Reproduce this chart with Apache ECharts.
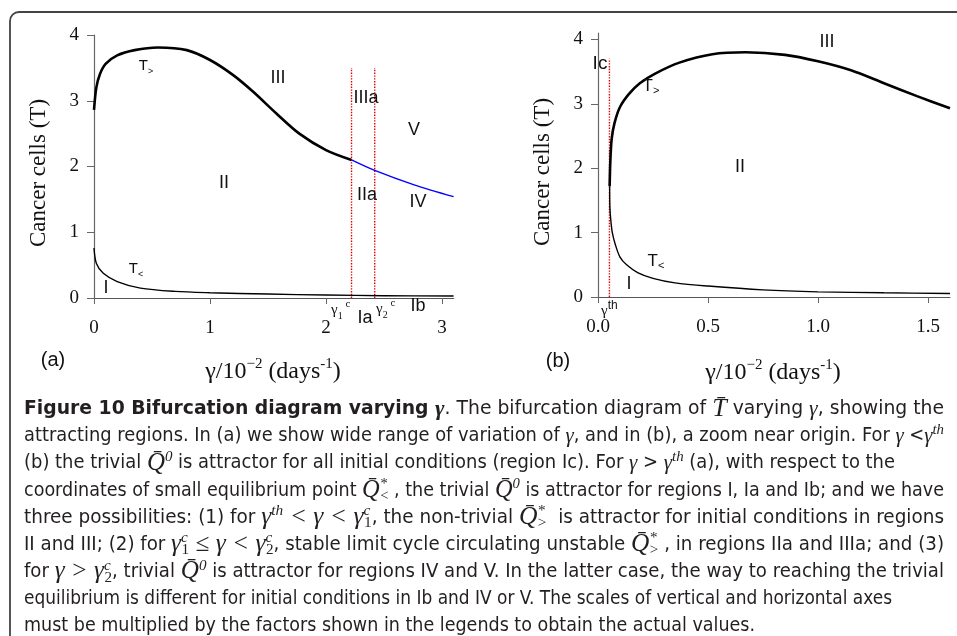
<!DOCTYPE html>
<html><head><meta charset="utf-8">
<script src="https://cdn.jsdelivr.net/npm/echarts@6/dist/echarts.min.js"></script>
<style>html,body{margin:0;padding:0;background:#fff}#c{width:957px;height:636px}</style>
</head><body><div id="c"></div><script>
// ---------- data ----------
// panel (a): T vs gamma/1e-2
const aUpperStable = [[0,2.86],[0.02,3.2],[0.05,3.4],[0.1,3.56],[0.2,3.69],[0.35,3.77],[0.55,3.81],[0.8,3.77],[1.0,3.62],[1.2,3.39],[1.37,3.14],[1.57,2.81],[1.77,2.5],[2.0,2.25],[2.22,2.1]];
const aUpperUnstable = [[2.22,2.1],[2.42,1.94],[2.76,1.72],[3.1,1.54]];
const aLower = [[0,0.76],[0.02,0.53],[0.08,0.375],[0.2,0.25],[0.4,0.15],[0.7,0.1],[1.0,0.08],[1.5,0.06],[2.0,0.045],[2.5,0.035],[3.1,0.03]];
const gammaC1 = 2.22, gammaC2 = 2.42, aDotTop = 3.5;
// panel (b): zoom near origin
const bUpper = [[0.053,1.72],[0.056,2.1],[0.062,2.45],[0.075,2.7],[0.1,2.95],[0.14,3.15],[0.19,3.32],[0.26,3.47],[0.37,3.64],[0.52,3.77],[0.67,3.8],[0.85,3.76],[1.0,3.66],[1.15,3.52],[1.3,3.32],[1.45,3.12],[1.6,2.93]];
const bLower = [[0.053,1.72],[0.054,1.4],[0.058,1.2],[0.065,1.0],[0.08,0.8],[0.1,0.62],[0.13,0.5],[0.18,0.38],[0.25,0.29],[0.35,0.22],[0.5,0.17],[0.75,0.11],[1.0,0.08],[1.3,0.065],[1.6,0.055]];
const gammaTh = 0.052, bDotTop = 3.7;
// ticks
const aXTicks = [0,1,2,3];
const bXTicks = [0,0.5,1.0,1.5];
const yTicks = [0,1,2,3,4];

// caption lines: [style, text]
const captionLines = [
 [['b','Figure 10 Bifurcation diagram varying '],['bm','γ'],['n','. The bifurcation diagram of '],['mq','T̄'],['n',' varying '],['m','γ'],['n',', showing the']],
 [['n','attracting regions. In (a) we show wide range of variation of '],['m','γ'],['n',', and in (b), a zoom near origin. For '],['m','γ'],['n',' <'],['m','γ'],['p','th']],
 [['n','(b) the trivial '],['mq','Q̄'],['p','0'],['n',' is attractor for all initial conditions (region Ic). For '],['m','γ'],['n',' > '],['m','γ'],['p','th'],['n',' (a), with respect to the']],
 [['n','coordinates of small equilibrium point '],['mq','Q̄'],['z','*'],['q','<'],['n',' , the trivial '],['mq','Q̄'],['p','0'],['n',' is attractor for regions I, Ia and Ib; and we have']],
 [['n','three possibilities: (1) for '],['mq','γ'],['p','th'],['mq',' < γ < γ'],['z','c'],['q','1'],['n',', the non-trivial '],['mq','Q̄'],['z','*'],['q','>'],['n','  is attractor for initial conditions in regions']],
 [['n','II and III; (2) for '],['mq','γ'],['z','c'],['q','1'],['mq',' ≤ γ < γ'],['z','c'],['q','2'],['n',', stable limit cycle circulating unstable '],['mq','Q̄'],['z','*'],['q','>'],['n',' , in regions IIa and IIIa; and (3)']],
 [['n','for '],['mq','γ > γ'],['z','c'],['q','2'],['n',', trivial '],['mq','Q̄'],['p','0'],['n',' is attractor for regions IV and V. In the latter case, the way to reaching the trivial']],
 [['n','equilibrium is different for initial conditions in Ib and IV or V. The scales of vertical and horizontal axes']],
 [['n','must be multiplied by the factors shown in the legends to obtain the actual values.']]
];

// ---------- helpers ----------
const serif = '"Liberation Serif","Times New Roman",serif';
const sans = '"Liberation Sans",Arial,sans-serif';
function fontExists(name){
  const c = document.createElement('canvas').getContext('2d');
  const s = 'abcdefghijklmnopqrstuvwxyz ABCDEFG';
  c.font = '20px monospace'; const w1 = c.measureText(s).width;
  c.font = '20px "'+name+'", monospace'; const w2 = c.measureText(s).width;
  return Math.abs(w1-w2) > 0.5;
}
let capFont = '"Open Sans",sans-serif';
for (const f of ['Liberation Sans Narrow','DejaVu Sans Condensed','Open Sans']) { if (fontExists(f)) { capFont = '"'+f+'",sans-serif'; break; } }

const ink = '#231f20';
const capRich = {
  b:{fontFamily:capFont, fontWeight:'bold', fontSize:20, fill:ink},
  n:{fontFamily:capFont, fontSize:20, fill:ink},
  bm:{fontFamily:serif, fontStyle:'italic', fontWeight:'bold', fontSize:22, fill:ink},
  m:{fontFamily:serif, fontStyle:'italic', fontSize:21, fill:ink},
  mq:{fontFamily:serif, fontStyle:'italic', fontSize:25, fill:ink},
  p:{fontFamily:serif, fontStyle:'italic', fontSize:15, fill:ink, verticalAlign:'top'},
  q:{fontFamily:serif, fontSize:15, fill:ink, verticalAlign:'bottom'},
  z:{fontFamily:serif, fontStyle:'italic', fontSize:15, fill:ink, verticalAlign:'top', width:0.5}
};
function richStr(segs){ return segs.map(s => '{'+s[0]+'|'+s[1]+'}').join(''); }
function measure(text){
  try { const t = new echarts.graphic.Text({style:{text:text, rich:capRich, lineHeight:27, fontFamily:capFont, fontSize:20}}); return t.getBoundingRect().width; }
  catch(e){ return null; }
}
const capX0 = 24, capY0 = 409, capDY = 27.1;
const capLineEnds = [944, 944, 895, 944, 944, 944, 944, 892, 755];
const capTexts = captionLines.map(richStr);
const widths = capTexts.map(measure);
const capGraphics = capTexts.map((t,i) => ({
  type:'text', x:capX0, y:capY0 + i*capDY, scaleX: widths[i] ? (capLineEnds[i]-capX0)/widths[i] : 1, z:10,
  style:{text:t, rich:capRich, lineHeight:27, fontFamily:capFont, fontSize:20, fill:ink, textAlign:'left', textVerticalAlign:'middle'}
}));

function lbl(text, x, y, size, extra){
  return Object.assign({type:'text', x:x, y:y, z:10, style:{text:text, fontFamily:sans, fontSize:size||18, fill:'#111', textAlign:'center', textVerticalAlign:'middle'}}, extra||{});
}
function tLabel(sub, x, y, size){
  return {type:'text', x:x, y:y, z:10, style:{text:'{t|T}{s|'+sub+'}', textAlign:'center', textVerticalAlign:'middle', lineHeight:20,
    rich:{t:{fontFamily:sans, fontSize:size, fill:'#111'}, s:{fontFamily:sans, fontSize:Math.round(size*0.62), fill:'#111', verticalAlign:'bottom'}}}};
}
const gRich = {g:{fontFamily:serif, fontSize:15, fill:'#111'}, q:{fontFamily:serif, fontSize:10, fill:'#111', verticalAlign:'bottom'}, p:{fontFamily:serif, fontSize:11, fill:'#111', verticalAlign:'top'}, h:{fontFamily:sans, fontSize:12, fill:'#111', verticalAlign:'top'}};
function gLabel(text, x, y){ return {type:'text', x:x, y:y, z:10, style:{text:text, rich:gRich, lineHeight:22, textAlign:'left', textVerticalAlign:'middle'}}; }
const axRich = {n:{fontFamily:serif, fontSize:24, fill:'#111'}, s:{fontFamily:serif, fontSize:15, fill:'#111', verticalAlign:'top'}};
function xName(x, y){ return {type:'text', x:x, y:y, z:10, style:{text:'{n|γ/10}{s|−2}{n| (days}{s|-1}{n|)}', rich:axRich, lineHeight:30, textAlign:'center', textVerticalAlign:'middle'}}; }
function yName(x, y){ return {type:'text', x:x, y:y, rotation:Math.PI/2, z:10, style:{text:'Cancer cells (T)', fontFamily:serif, fontSize:23, fill:'#111', textAlign:'center', textVerticalAlign:'middle'}}; }

const axisLine = {lineStyle:{color:'#555', width:1.2}};
function xAx(gi, max, ticks, fmt){
  return {gridIndex:gi, type:'value', min:0, max:max, splitLine:{show:false}, axisLine:axisLine,
    axisTick:{length:6, lineStyle:{color:'#666'}, customValues:ticks},
    axisLabel:{fontFamily:serif, fontSize:19, color:'#111', margin:21, customValues:ticks, formatter:fmt}};
}
function yAx(gi, max){
  return {gridIndex:gi, type:'value', min:0, max:max, splitLine:{show:false}, axisLine:{show:true, lineStyle:{color:'#666', width:1.2}},
    axisTick:{show:true, length:7, lineStyle:{color:'#666'}, customValues:yTicks},
    axisLabel:{fontFamily:serif, fontSize:19, color:'#111', margin:15, customValues:yTicks}};
}
function ln(data, xi, color, width, dotted){
  return {type:'line', xAxisIndex:xi, yAxisIndex:xi, data:data, smooth:dotted?false:0.3, showSymbol:false, symbol:'none', silent:true,
    lineStyle:{color:color, width:width, type:dotted?'dotted':'solid'}, z:dotted?3:4};
}

const chart = echarts.init(document.getElementById('c'), null, {renderer:'canvas'});
chart.setOption({
  animation:false,
  backgroundColor:'#fff',
  grid:[{left:94, top:35, width:359.6, height:263, outerBoundsMode:'none', containLabel:false},
        {left:598, top:33, width:352, height:264, outerBoundsMode:'none', containLabel:false}],
  xAxis:[xAx(0, 3.1, aXTicks, v => String(v)), xAx(1, 1.6, bXTicks, v => v.toFixed(1))],
  yAxis:[yAx(0, 4), yAx(1, 4.1)],
  series:[
    ln(aLower, 0, '#000', 1.4),
    ln(aUpperStable, 0, '#000', 2.6),
    ln(aUpperUnstable, 0, '#0000ff', 1.3),
    ln([[gammaC1,0],[gammaC1,aDotTop]], 0, '#e00000', 1.4, true),
    ln([[gammaC2,0],[gammaC2,aDotTop]], 0, '#e00000', 1.4, true),
    ln(bLower, 1, '#000', 1.4),
    ln(bUpper, 1, '#000', 2.6),
    ln([[gammaTh,0],[gammaTh,bDotTop]], 1, '#e00000', 1.4, true)
  ],
  graphic:[
    {type:'rect', z:1, shape:{x:10, y:12, width:1100, height:800, r:9}, style:{fill:'none', stroke:'#444', lineWidth:1.8}},
    yName(39, 173), yName(543, 172),
    xName(273, 372), xName(773, 373),
    lbl('(a)', 53, 360, 20), lbl('(b)', 558, 361, 20),
    // panel (a) regions
    lbl('III', 278, 78), lbl('IIIa', 366, 98), lbl('V', 414, 130), lbl('II', 224, 183),
    lbl('IIa', 367, 195), lbl('IV', 418, 202), lbl('I', 106, 288), lbl('Ia', 365, 318), lbl('Ib', 418, 306),
    tLabel('>', 146, 66, 15), tLabel('<', 136, 269, 15),
    gLabel('{g|γ}{q|1}{p| c}', 331, 310), gLabel('{g|γ}{q|2}{p| c}', 376, 309),
    // panel (b) regions
    lbl('Ic', 600, 64, 19), lbl('III', 827, 42), lbl('II', 740, 167), lbl('I', 629, 284),
    tLabel('>', 651, 86, 17), tLabel('<', 656, 261, 17),
    gLabel('{g|γ}{h|th}', 601, 311)
  ].concat(capGraphics)
});
</script></body></html>
